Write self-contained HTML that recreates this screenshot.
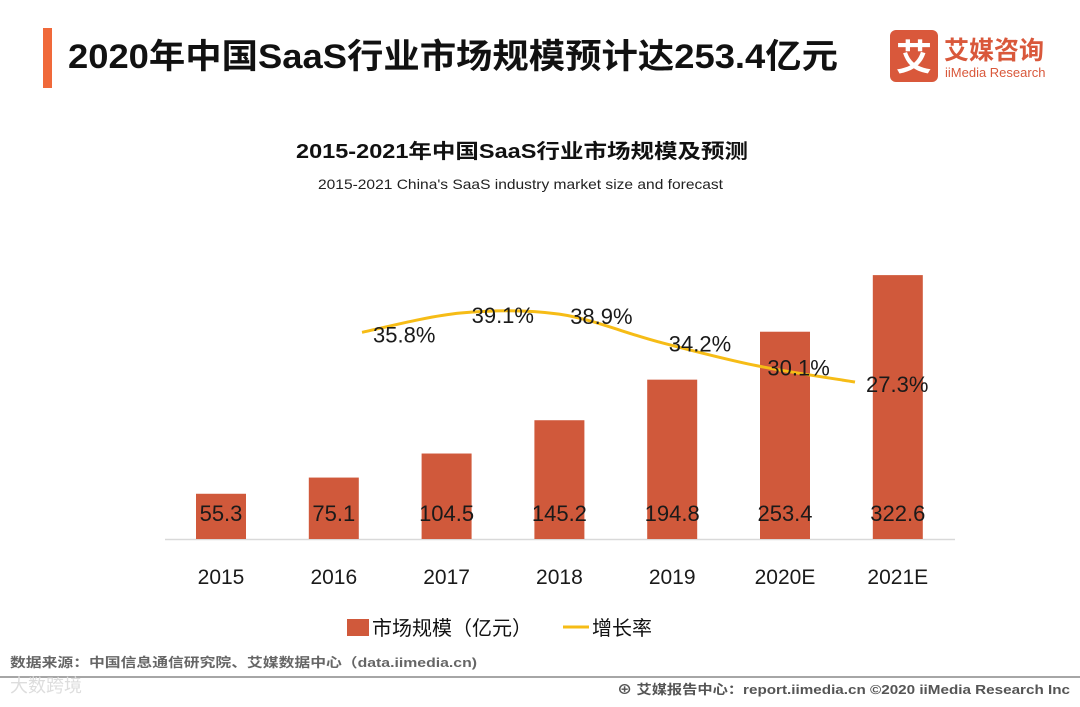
<!DOCTYPE html>
<html><head><meta charset="utf-8"><style>
body{margin:0;background:#fff;}
svg text{font-family:"Liberation Sans","Noto Sans CJK SC",sans-serif;}
</style></head><body>
<svg width="1080" height="702" viewBox="0 0 1080 702" xmlns="http://www.w3.org/2000/svg">
<rect x="43" y="28" width="9" height="60" fill="#f0693a"/>
<text x="68" y="68" font-size="34" fill="#111" font-weight="bold" textLength="770" lengthAdjust="spacingAndGlyphs">2020年中国SaaS行业市场规模预计达253.4亿元</text>
<g>
<rect x="890" y="30" width="48" height="52" rx="6" fill="#d9583b"/>
<text x="914" y="70" font-size="36" fill="#fff" text-anchor="middle" font-weight="bold">艾</text>
<text x="944" y="59" font-size="25" fill="#d9583b" font-weight="bold">艾媒咨询</text>
<text x="945" y="77" font-size="13" fill="#d9583b">iiMedia Research</text>
</g>
<text x="296" y="158" font-size="20" font-weight="bold" fill="#111" textLength="452" lengthAdjust="spacingAndGlyphs">2015-2021年中国SaaS行业市场规模及预测</text>
<text x="318" y="189" font-size="14" fill="#222" textLength="405" lengthAdjust="spacingAndGlyphs">2015-2021 China's SaaS industry market size and forecast</text>
<line x1="165" y1="539.5" x2="955" y2="539.5" stroke="#d9d9d9" stroke-width="1.5"/>
<g id="bars"></g>
<g id="line"></g>
<g>
<rect x="347" y="619" width="22" height="17" fill="#d0593b"/>
<text x="372" y="635" font-size="20" fill="#111">市场规模（亿元）</text>
<line x1="563" y1="627" x2="589" y2="627" stroke="#f6bc16" stroke-width="3"/>
<text x="592" y="635" font-size="20" fill="#111">增长率</text>
</g>
<text x="10" y="667" font-size="13" fill="#666" font-weight="bold" textLength="467" lengthAdjust="spacingAndGlyphs">数据来源：中国信息通信研究院、艾媒数据中心（data.iimedia.cn)</text>
<line x1="0" y1="677" x2="1080" y2="677" stroke="#888" stroke-width="1.5"/>
<text x="10" y="692" font-size="18" fill="#ddd">大数跨境</text>
<text x="617" y="694" font-size="13" fill="#555" font-weight="bold" textLength="453" lengthAdjust="spacingAndGlyphs">⊕ 艾媒报告中心：report.iimedia.cn  ©2020  iiMedia Research  Inc</text>
</svg>
<script>
const categories=["2015","2016","2017","2018","2019","2020E","2021E"];
const marketSize=[55.3,75.1,104.5,145.2,194.8,253.4,322.6];
const growthRate=[null,35.8,39.1,38.9,34.2,30.1,27.3];
const growthLabels=["","35.8%","39.1%","38.9%","34.2%","30.1%","27.3%"];
const NS="http://www.w3.org/2000/svg";
const xBar=i=>221+i*112.8;
const yBar=v=>539-v*0.818;
const xLine=i=>362+(i-1)*98.6;
const yLine=v=>313+(39.1-v)*5.85;
const bars=document.getElementById('bars');
categories.forEach((c,i)=>{
 const r=document.createElementNS(NS,'rect');
 r.setAttribute('x',xBar(i)-25);r.setAttribute('width',50);
 r.setAttribute('y',yBar(marketSize[i]));r.setAttribute('height',539-yBar(marketSize[i]));
 r.setAttribute('fill','#d0593b');
 
 
 bars.appendChild(r);
 const t=document.createElementNS(NS,'text');
 t.setAttribute('x',xBar(i));t.setAttribute('y',521);t.setAttribute('font-size','22');
 t.setAttribute('text-anchor','middle');t.setAttribute('fill','#1a1a1a');t.textContent=marketSize[i];
 
 
 bars.appendChild(t);
 const l=document.createElementNS(NS,'text');
 l.setAttribute('x',xBar(i));l.setAttribute('y',584);l.setAttribute('font-size','21');
 l.setAttribute('text-anchor','middle');l.setAttribute('fill','#1a1a1a');l.textContent=c;
 
 
 bars.appendChild(l);
});
const pts=[];
growthRate.forEach((v,i)=>{if(v!==null)pts.push([xLine(i),yLine(v),i]);});
let d='M'+pts[0][0]+','+pts[0][1];
for(let k=0;k<pts.length-1;k++){
 const p0=pts[Math.max(k-1,0)],p1=pts[k],p2=pts[k+1],p3=pts[Math.min(k+2,pts.length-1)];
 const c1x=p1[0]+(p2[0]-p0[0])/6,c1y=p1[1]+(p2[1]-p0[1])/6;
 const c2x=p2[0]-(p3[0]-p1[0])/6,c2y=p2[1]-(p3[1]-p1[1])/6;
 d+=` C${c1x},${c1y} ${c2x},${c2y} ${p2[0]},${p2[1]}`;
}
const lg=document.getElementById('line');
const path=document.createElementNS(NS,'path');
path.setAttribute('d',d);path.setAttribute('fill','none');path.setAttribute('stroke','#f6bc16');path.setAttribute('stroke-width','3');


lg.appendChild(path);
pts.forEach(p=>{
 const t=document.createElementNS(NS,'text');
 t.setAttribute('x',p[0]+11);t.setAttribute('y',p[1]+10);t.setAttribute('font-size','22');t.setAttribute('fill','#1a1a1a');
 t.textContent=growthLabels[p[2]];
 
 
 lg.appendChild(t);
});
</script>
</body></html>
